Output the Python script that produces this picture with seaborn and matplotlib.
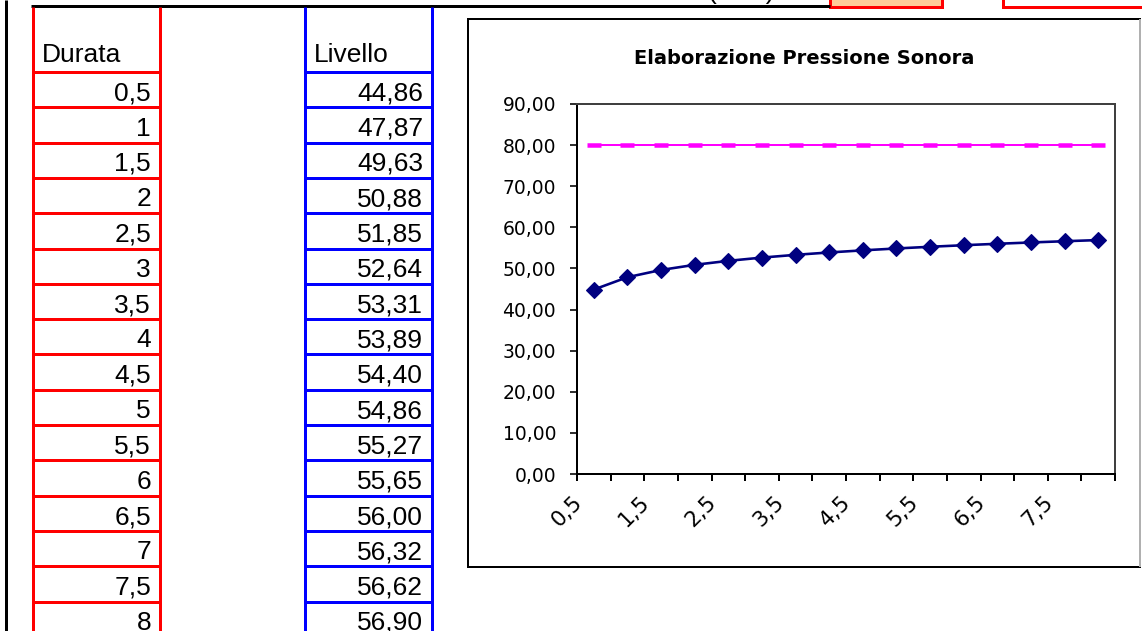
import numpy as np
import pandas as pd
import matplotlib
matplotlib.use("Agg")
import matplotlib.pyplot as plt
from matplotlib.patches import Rectangle
from matplotlib.ticker import FixedLocator, FuncFormatter
from matplotlib.transforms import ScaledTranslation
import seaborn as sns

# ---- data -------------------------------------------------------------
durata = [0.5, 1, 1.5, 2, 2.5, 3, 3.5, 4, 4.5, 5, 5.5, 6, 6.5, 7, 7.5, 8]
livello = [44.86, 47.87, 49.63, 50.88, 51.85, 52.64, 53.31, 53.89,
           54.40, 54.86, 55.27, 55.65, 56.00, 56.32, 56.62, 56.90]
limite = [80.00, 80.00, 80.00, 80.00, 80.00, 80.00, 80.00, 80.00,
          80.00, 80.00, 80.00, 80.00, 80.00, 80.00, 80.00, 80.00]
y_ticks = [0, 10, 20, 30, 40, 50, 60, 70, 80, 90]
titolo = "Elaborazione Pressione Sonora"
intestazione_durata = "Durata"
intestazione_livello = "Livello"
unita = "(dBA)"


def fmt_generale(v):
    """Excel 'General' style with a decimal comma."""
    return str(int(v)) if float(v).is_integer() else str(v).replace(".", ",")


def fmt_due(v):
    return f"{v:.2f}".replace(".", ",")


df = pd.DataFrame({"durata": durata, "livello": livello, "limite": limite})
df["pos"] = np.arange(len(df))
n = len(df)

# ---- figure / sheet canvas in pixel units -----------------------------
W, H = 1142, 631
PX = 72 / 100  # points per pixel at dpi 100

sns.set_style("white")
plt.rcParams["font.family"] = ["Liberation Sans", "DejaVu Sans"]
for key in ("text.color", "axes.labelcolor", "xtick.color", "ytick.color"):
    plt.rcParams[key] = "black"

fig = plt.figure(figsize=(W / 100, H / 100), dpi=100)
sheet = fig.add_axes([0, 0, 1, 1])
sheet.set_xlim(0, W)
sheet.set_ylim(H, 0)
sheet.axis("off")

# outer sheet borders
sheet.vlines(5.5, 0, H, color="black", lw=3 * PX)
sheet.hlines(6, 31, 830, color="black", lw=3 * PX)
sheet.text(707, -1.5, unita, ha="left", va="baseline", fontsize=19,
           family="Liberation Sans")
sheet.add_patch(Rectangle((830, -6), 112, 12.5, facecolor="#FFCC99",
                          edgecolor="#FF0000", lw=3 * PX))
sheet.add_patch(Rectangle((1003, -6), 145, 12.5, facecolor="white",
                          edgecolor="#FF0000", lw=3 * PX))

# table columns
row0, row_h = 72.0, 35.31
row_lines = row0 + row_h * np.arange(n + 1)


def colonna(x0, x1, colore, header, valori, x_testo):
    sheet.vlines([x0, x1], 7, H, color=colore, lw=3 * PX)
    sheet.hlines(row_lines, x0, x1, color=colore, lw=3 * PX)
    sheet.text(x0 + 9, 62, header, ha="left", va="baseline", fontsize=19,
               family="Liberation Sans")
    for i, txt in enumerate(valori):
        sheet.text(x_testo, row_lines[i + 1] - 7, txt, ha="right",
                   va="baseline", fontsize=19, family="Liberation Sans")


colonna(33, 160, "#FF0000", intestazione_durata,
        [fmt_generale(v) for v in durata], 151)
colonna(304.5, 432, "#0000FF", intestazione_livello,
        [fmt_due(v) for v in livello], 423)

# chart frame
sheet.add_patch(Rectangle((468, 19), 672, 548, facecolor="white",
                          edgecolor="black", lw=2 * PX))
sheet.vlines(1140, 19, 567, color="#b0b0b0", lw=2 * PX)
sheet.text(804, 59, titolo, ha="center", va="center", fontsize=14,
           fontweight="bold", family="DejaVu Sans")

# ---- the plot -----------------------------------------------------------
ax = fig.add_axes([577 / W, 1 - 474 / H, 538 / W, 370 / H])
ax.set_facecolor("white")

sns.lineplot(data=df, x="pos", y="limite", ax=ax, color="#FF00FF",
             linewidth=2 * PX, marker="_", markersize=14 * PX,
             markeredgewidth=4.5 * PX, markeredgecolor="#FF00FF")
sns.lineplot(data=df, x="pos", y="livello", ax=ax, color="#000080",
             linewidth=2.6 * PX, marker="D", markersize=11 * PX,
             markeredgewidth=0.8, markeredgecolor="#000080")

ax.set_xlim(-0.5, n - 0.5)
ax.set_ylim(0, 90)
ax.set_xlabel("")
ax.set_ylabel("")

ax.yaxis.set_major_locator(FixedLocator(y_ticks))
ax.yaxis.set_major_formatter(FuncFormatter(lambda v, p: fmt_due(v)))

label_pos = list(df["pos"][::2])
ax.xaxis.set_major_locator(FixedLocator(label_pos))
ax.set_xticklabels([fmt_generale(v) for v in df["durata"][::2]])
ax.xaxis.set_minor_locator(FixedLocator(np.arange(-0.5, n, 1.0)))

ax.tick_params(axis="y", which="major", direction="out", length=7 * PX,
               width=1.6 * PX, color="black", pad=10, labelsize=13.5,
               left=True)
ax.tick_params(axis="x", which="major", length=0, pad=13, labelsize=15.5,
               bottom=True)
ax.tick_params(axis="x", which="minor", direction="out", length=7 * PX,
               width=2 * PX, color="black", bottom=True)

for lab in ax.get_yticklabels():
    lab.set_family("DejaVu Sans")
for lab in ax.get_xticklabels():
    lab.set_family("DejaVu Sans")
    lab.set_rotation(45)
    lab.set_ha("right")
    lab.set_va("top")
    lab.set_transform(lab.get_transform()
                      + ScaledTranslation(-8 / 100, 0, fig.dpi_scale_trans))

for side in ("left", "bottom"):
    ax.spines[side].set_color("black")
    ax.spines[side].set_linewidth(2 * PX)
for side in ("top", "right"):
    ax.spines[side].set_color("#404040")
    ax.spines[side].set_linewidth(2 * PX)

fig.savefig("out.png", dpi=100)
